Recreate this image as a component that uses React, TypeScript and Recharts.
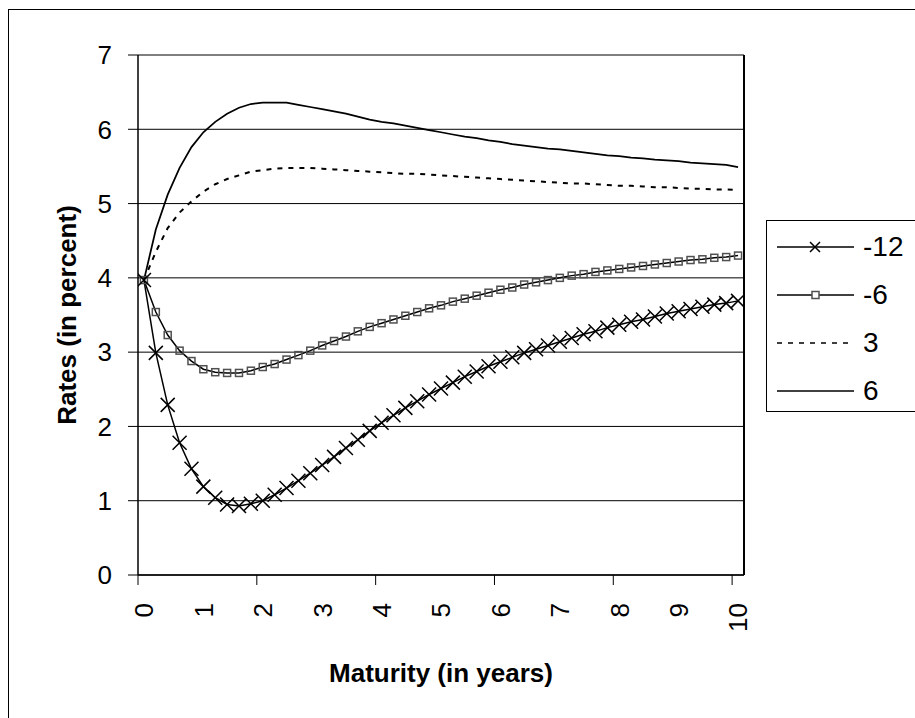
import React from "react";
import { LineChart, Line, XAxis, YAxis, CartesianGrid, ReferenceLine, Label } from "recharts";

// maturity in years, one point every 0.2 years
const maturities = [
  0, 0.2, 0.4, 0.6, 0.8, 1, 1.2, 1.4, 1.6, 1.8, 2, 2.2, 2.4, 2.6, 2.8, 3, 3.2, 3.4, 3.6, 3.8, 4,
  4.2, 4.4, 4.6, 4.8, 5, 5.2, 5.4, 5.6, 5.8, 6, 6.2, 6.4, 6.6, 6.8, 7, 7.2, 7.4, 7.6, 7.8, 8,
  8.2, 8.4, 8.6, 8.8, 9, 9.2, 9.4, 9.6, 9.8, 10,
];

const ratesM12 = [
  3.97, 2.99, 2.29, 1.78, 1.43, 1.19, 1.04, 0.95, 0.93, 0.96, 1.0, 1.08, 1.17, 1.27, 1.37, 1.48,
  1.59, 1.71, 1.82, 1.94, 2.05, 2.15, 2.25, 2.34, 2.43, 2.51, 2.59, 2.67, 2.74, 2.81, 2.87, 2.93,
  2.99, 3.04, 3.09, 3.14, 3.19, 3.24, 3.28, 3.33, 3.37, 3.41, 3.44, 3.48, 3.52, 3.55, 3.58, 3.61,
  3.64, 3.66, 3.69,
];

const ratesM6 = [
  3.97, 3.54, 3.23, 3.02, 2.88, 2.77, 2.73, 2.72, 2.72, 2.75, 2.8, 2.84, 2.9, 2.96, 3.02, 3.09,
  3.15, 3.21, 3.28, 3.34, 3.39, 3.44, 3.49, 3.54, 3.59, 3.63, 3.68, 3.72, 3.76, 3.8, 3.84, 3.87,
  3.91, 3.94, 3.97, 4.0, 4.03, 4.05, 4.08, 4.1, 4.12, 4.14, 4.16, 4.18, 4.2, 4.22, 4.24, 4.25,
  4.27, 4.28, 4.3,
];

const rates3 = [
  3.97, 4.35, 4.67, 4.88, 5.03, 5.16, 5.26, 5.33, 5.38, 5.43, 5.45, 5.47, 5.48, 5.48, 5.48, 5.47,
  5.46, 5.45, 5.44, 5.43, 5.42, 5.41, 5.4, 5.4, 5.39, 5.38, 5.37, 5.36, 5.35, 5.34, 5.33, 5.32,
  5.31, 5.3, 5.29, 5.28, 5.27, 5.27, 5.26, 5.25, 5.24, 5.24, 5.23, 5.22, 5.22, 5.21, 5.2, 5.2,
  5.19, 5.19, 5.18,
];

const rates6 = [
  3.97, 4.65, 5.12, 5.48, 5.76, 5.96, 6.1, 6.21, 6.29, 6.34, 6.36, 6.36, 6.36, 6.33, 6.3, 6.27,
  6.24, 6.21, 6.17, 6.13, 6.1, 6.08, 6.05, 6.02, 5.99, 5.96, 5.93, 5.9, 5.88, 5.85, 5.83, 5.8,
  5.78, 5.76, 5.74, 5.73, 5.71, 5.69, 5.67, 5.65, 5.64, 5.62, 5.61, 5.59, 5.58, 5.57, 5.55, 5.54,
  5.53, 5.52, 5.49,
];

const seriesNames = ["-12", "-6", "3", "6"];
const yTicks = [0, 1, 2, 3, 4, 5, 6, 7];
const xLabels = [0, 1, 2, 3, 4, 5, 6, 7, 8, 9, 10];
// tick marks sit on category boundaries, every 2 years
const xMarks = [-0.1, 1.9, 3.9, 5.9, 7.9, 9.9];

const data = maturities.map((m, i) => ({
  m,
  a: ratesM12[i],
  b: ratesM6[i],
  c: rates3[i],
  d: rates6[i],
}));

const FONT = '"Liberation Sans", Arial, sans-serif';

const CrossDot = (props: any) => {
  const { cx, cy, index } = props;
  if (cx == null || cy == null) return <g key={index} />;
  return (
    <path
      key={index}
      d={`M${cx - 7},${cy - 7}L${cx + 7},${cy + 7}M${cx - 7},${cy + 7}L${cx + 7},${cy - 7}`}
      stroke="#000"
      strokeWidth={1.5}
      fill="none"
    />
  );
};

const SquareDot = (props: any) => {
  const { cx, cy, index } = props;
  if (cx == null || cy == null) return <g key={index} />;
  return (
    <rect key={index} x={cx - 3.5} y={cy - 3.5} width={7} height={7} stroke="#505050" strokeWidth={1.5} fill="none" />
  );
};

const XTick = (props: any) => {
  const { x, y, payload } = props;
  const v = payload.value;
  if (xMarks.includes(v)) {
    return <line x1={x} y1={y} x2={x} y2={y + 10} stroke="#000" strokeWidth={1} />;
  }
  const ty = y + 28;
  return (
    <text
      x={x}
      y={ty}
      dy="0.36em"
      textAnchor="end"
      transform={`rotate(-90, ${x}, ${ty})`}
      fontSize={26}
      fontFamily={FONT}
      fill="#000"
    >
      {v}
    </text>
  );
};

const XTitle = (props: any) => {
  const vb = props.viewBox || { x: 138, y: 575, width: 606 };
  return (
    <text x={vb.x + vb.width / 2} y={vb.y + 107} textAnchor="middle" fontSize={26} fontWeight="bold" fontFamily={FONT} fill="#000">
      Maturity (in years)
    </text>
  );
};

const YTitle = (props: any) => {
  const vb = props.viewBox || { x: 0, y: 55, width: 138, height: 520 };
  const tx = vb.x + vb.width - 62;
  const ty = vb.y + vb.height / 2;
  return (
    <text x={tx} y={ty} textAnchor="middle" transform={`rotate(-90, ${tx}, ${ty})`} fontSize={26} fontWeight="bold" fontFamily={FONT} fill="#000">
      Rates (in percent)
    </text>
  );
};

function LegendSample({ kind }: { kind: number }) {
  return (
    <svg width={80} height={48} style={{ display: "block" }}>
      {kind === 2 ? (
        <line x1={0} y1={24} x2={77} y2={24} stroke="#000" strokeWidth={1.5} strokeDasharray="5 6" />
      ) : (
        <line x1={0} y1={24} x2={77} y2={24} stroke="#000" strokeWidth={1.5} />
      )}
      {kind === 0 && <path d="M33,19L43,29M33,29L43,19" stroke="#000" strokeWidth={1.5} />}
      {kind === 1 && <rect x={35} y={20.5} width={7} height={7} stroke="#505050" strokeWidth={1.5} fill="#fff" />}
    </svg>
  );
}

export default function App() {
  return (
    <div style={{ position: "absolute", left: 0, top: 0, width: 915, height: 718, overflow: "hidden", background: "#fff" }}>
      <div style={{ position: "absolute", left: 8, top: 9, width: 1000, height: 1000, border: "1px solid #000", boxSizing: "border-box" }} />
      <div style={{ position: "absolute", left: 0, top: 0 }}>
        <LineChart width={915} height={718} data={data} margin={{ top: 55, right: 171, bottom: 0, left: 0 }}>
          <CartesianGrid horizontal vertical={false} stroke="#000" strokeOpacity={1} />
          <XAxis
            dataKey="m"
            type="number"
            domain={[-0.1, 10.1]}
            allowDataOverflow
            ticks={[...xMarks, ...xLabels].sort((p, q) => p - q)}
            interval={0}
            tick={<XTick />}
            tickLine={false}
            tickSize={0}
            tickMargin={0}
            axisLine={{ stroke: "#000", strokeWidth: 1.5 }}
            height={143}
          >
            <Label content={<XTitle />} />
          </XAxis>
          <YAxis
            type="number"
            domain={[0, 7]}
            ticks={yTicks}
            interval={0}
            width={138}
            tickSize={10}
            tickMargin={16}
            tick={{ fontSize: 26, fill: "#000", fontFamily: FONT }}
            tickLine={{ stroke: "#000" }}
            axisLine={{ stroke: "#000", strokeWidth: 1.5 }}
          >
            <Label content={<YTitle />} />
          </YAxis>
          <ReferenceLine x={10.1} stroke="#000" strokeWidth={2} />
          <Line type="linear" dataKey="d" name={seriesNames[3]} stroke="#000" strokeWidth={1.75} dot={false} isAnimationActive={false} />
          <Line type="linear" dataKey="c" name={seriesNames[2]} stroke="#000" strokeWidth={2} strokeDasharray="5 6" dot={false} isAnimationActive={false} />
          <Line type="linear" dataKey="b" name={seriesNames[1]} stroke="#000" strokeWidth={1.5} dot={SquareDot} isAnimationActive={false} />
          <Line type="linear" dataKey="a" name={seriesNames[0]} stroke="#000" strokeWidth={1.5} dot={CrossDot} isAnimationActive={false} />
        </LineChart>
      </div>
      <div
        style={{
          position: "absolute",
          left: 766,
          top: 220,
          width: 170,
          height: 192,
          border: "1px solid #000",
          boxSizing: "border-box",
          paddingTop: 2,
          background: "#fff",
          fontFamily: FONT,
          fontSize: 28,
          color: "#000",
        }}
      >
        {seriesNames.map((name, i) => (
          <div key={name} style={{ display: "flex", alignItems: "center", height: 48, lineHeight: "48px" }}>
            <div style={{ marginLeft: 10 }}>
              <LegendSample kind={i} />
            </div>
            <span style={{ marginLeft: 6 }}>{name}</span>
          </div>
        ))}
      </div>
    </div>
  );
}
